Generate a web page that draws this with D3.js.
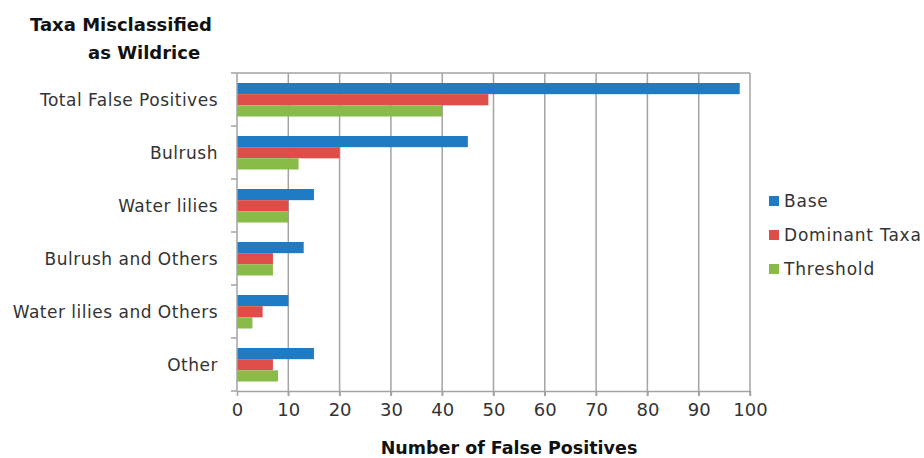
<!DOCTYPE html>
<html>
<head>
<meta charset="utf-8">
<script src="https://cdn.jsdelivr.net/npm/d3@7"></script>
<style>
  body { margin: 0; background: #fff; }
  text { font-family: "DejaVu Sans", sans-serif; }
</style>
</head>
<body>
<script>
const categories = [
  "Total False Positives",
  "Bulrush",
  "Water lilies",
  "Bulrush and Others",
  "Water lilies and Others",
  "Other"
];
const seriesNames = ["Base", "Dominant Taxa", "Threshold"];
const baseValues = [98, 45, 15, 13, 10, 15];
const dominantValues = [49, 20, 10, 7, 5, 7];
const thresholdValues = [40, 12, 10, 7, 3, 8];
const xTicks = [0, 10, 20, 30, 40, 50, 60, 70, 80, 90, 100];

const colors = ["#1f7cc4", "#df4d48", "#88bb48"];
const series = [baseValues, dominantValues, thresholdValues];

const width = 924;
const height = 458;
const plot = { left: 237, right: 750, top: 73, bottom: 391 };

const svg = d3
  .select("body")
  .append("svg")
  .attr("width", width)
  .attr("height", height);

const xScale = d3.scaleLinear().domain([0, 100]).range([plot.left, plot.right]);

const yScale = d3
  .scaleBand()
  .domain(categories)
  .range([plot.top, plot.bottom])
  .padding(0);

const inner = d3
  .scaleBand()
  .domain(seriesNames)
  .range([10, yScale.bandwidth() - 9.5])
  .padding(0);

const gridColor = "#a3a3a3";

// vertical gridlines
svg
  .append("g")
  .selectAll("line")
  .data(xTicks.slice(1))
  .enter()
  .append("line")
  .attr("x1", (d) => xScale(d))
  .attr("x2", (d) => xScale(d))
  .attr("y1", plot.top)
  .attr("y2", plot.bottom + 5)
  .attr("stroke", gridColor)
  .attr("stroke-width", 1.5);

// top border
svg
  .append("line")
  .attr("x1", plot.left)
  .attr("x2", plot.right)
  .attr("y1", plot.top)
  .attr("y2", plot.top)
  .attr("stroke", gridColor)
  .attr("stroke-width", 1.5);

// bars
const groups = svg
  .append("g")
  .selectAll("g")
  .data(categories)
  .enter()
  .append("g")
  .attr("transform", (d) => `translate(0 ${yScale(d)})`);

groups
  .selectAll("rect")
  .data((d, i) => seriesNames.map((s, j) => ({ s, v: series[j][i], c: colors[j] })))
  .enter()
  .append("rect")
  .attr("x", xScale(0))
  .attr("y", (d) => inner(d.s))
  .attr("width", (d) => xScale(d.v) - xScale(0))
  .attr("height", inner.bandwidth())
  .attr("fill", (d) => d.c);

// x axis
const xAxis = d3
  .axisBottom(xScale)
  .tickValues(xTicks)
  .tickSize(5)
  .tickPadding(7)
  .tickSizeOuter(0);

const xg = svg
  .append("g")
  .attr("transform", `translate(0 ${plot.bottom})`)
  .call(xAxis);
xg.select(".domain").attr("stroke", gridColor).attr("stroke-width", 1.5);
xg.selectAll(".tick line").attr("stroke", gridColor).attr("stroke-width", 1.5);
xg.selectAll("text")
  .attr("font-size", 18)
  .attr("fill", "#333")
  .style("font-family", "DejaVu Sans, sans-serif");

// y axis
const yTickPositions = d3.range(categories.length + 1).map(
  (i) => plot.top + i * yScale.step()
);
svg
  .append("line")
  .attr("x1", plot.left)
  .attr("x2", plot.left)
  .attr("y1", plot.top)
  .attr("y2", plot.bottom)
  .attr("stroke", gridColor)
  .attr("stroke-width", 1.5);
svg
  .append("g")
  .selectAll("line")
  .data(yTickPositions)
  .enter()
  .append("line")
  .attr("x1", plot.left - 6)
  .attr("x2", plot.left)
  .attr("y1", (d) => d)
  .attr("y2", (d) => d)
  .attr("stroke", gridColor)
  .attr("stroke-width", 1.5);

svg
  .append("g")
  .selectAll("text")
  .data(categories)
  .enter()
  .append("text")
  .attr("x", 218)
  .attr("y", (d) => yScale(d) + yScale.bandwidth() / 2 + 1)
  .attr("dy", "0.35em")
  .attr("text-anchor", "end")
  .attr("font-size", 17)
  .attr("letter-spacing", 0.5)
  .attr("fill", "#333")
  .text((d) => d);

// titles
const title = svg
  .append("text")
  .attr("font-size", 18)
  .attr("font-weight", "bold")
  .attr("fill", "#111");
title.append("tspan").attr("x", 30).attr("y", 31).text("Taxa Misclassified");
title.append("tspan").attr("x", 88).attr("y", 59).text("as Wildrice");

svg
  .append("text")
  .attr("x", 509)
  .attr("y", 454)
  .attr("text-anchor", "middle")
  .attr("font-size", 17.5)
  .attr("font-weight", "bold")
  .attr("fill", "#111")
  .text("Number of False Positives");

// legend
const legendY = [201, 235, 269];
const legend = svg
  .append("g")
  .selectAll("g")
  .data(seriesNames)
  .enter()
  .append("g")
  .attr("transform", (d, i) => `translate(769 ${legendY[i]})`);
legend
  .append("rect")
  .attr("x", 0)
  .attr("y", -5)
  .attr("width", 10)
  .attr("height", 10)
  .attr("fill", (d, i) => colors[i]);
legend
  .append("text")
  .attr("x", 15)
  .attr("y", 0)
  .attr("dy", "0.35em")
  .attr("font-size", 17)
  .attr("letter-spacing", 0.8)
  .attr("fill", "#333")
  .text((d) => d);
</script>
</body>
</html>
